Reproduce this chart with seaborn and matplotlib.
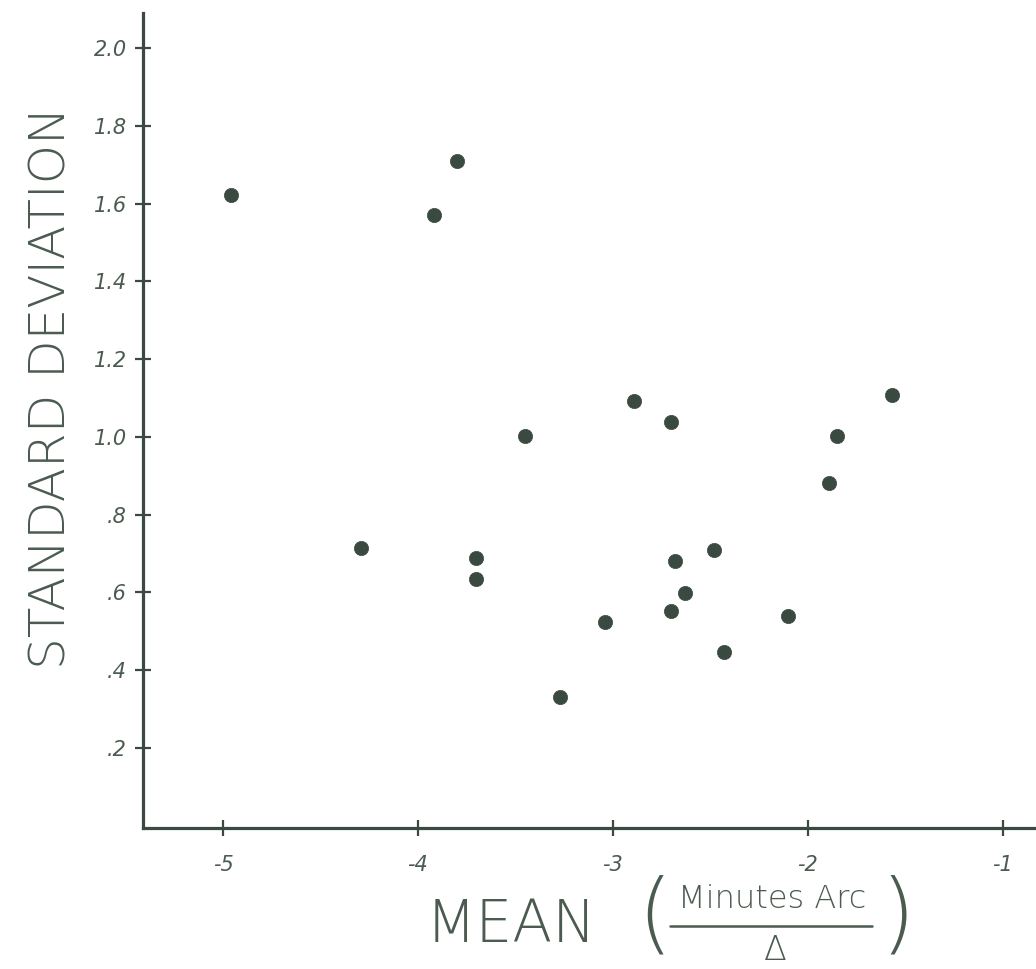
import matplotlib
matplotlib.use("Agg")
import matplotlib.pyplot as plt
from matplotlib.lines import Line2D
import seaborn as sns
import pandas as pd

# Data
mean_values = [-4.96, -3.80, -3.92, -4.29, -3.70, -3.70, -3.45, -3.27, -3.04, -2.89,
               -2.70, -2.68, -2.70, -2.63, -2.48, -2.43, -2.10, -1.89, -1.85, -1.57]
sd_values = [1.623, 1.710, 1.571, 0.715, 0.688, 0.635, 1.002, 0.330, 0.524, 1.091,
             1.039, 0.680, 0.552, 0.598, 0.710, 0.447, 0.538, 0.880, 1.003, 1.108]
x_ticks = [-5, -4, -3, -2, -1]
x_tick_labels = ["-5", "-4", "-3", "-2", "-1"]
y_ticks = [0.2, 0.4, 0.6, 0.8, 1.0, 1.2, 1.4, 1.6, 1.8, 2.0]
y_tick_labels = [".2", ".4", ".6", ".8", "1.0", "1.2", "1.4", "1.6", "1.8", "2.0"]

df = pd.DataFrame({"mean": mean_values, "sd": sd_values})

sns.set_style("ticks")
plt.rcParams["font.family"] = ["DejaVu Sans"]

INK = "#3b4a40"
TEXT = "#4b5b50"
W, H = 1036, 969

fig = plt.figure(figsize=(10.36, 9.69), dpi=100)
ax = fig.add_axes([143 / W, 1 - 828 / H, 1 - 143 / W, (828 - 13) / H])

sns.scatterplot(data=df, x="mean", y="sd", ax=ax, s=105, color=INK,
                edgecolor=INK, linewidth=0.5, legend=False, zorder=3)

ax.set_xlim(-5.41, -0.83)
ax.set_ylim(-0.006, 2.09)
ax.set_xticks(x_ticks)
ax.set_xticklabels(x_tick_labels, fontsize=15, style="italic", color=TEXT)
ax.set_yticks(y_ticks)
ax.set_yticklabels(y_tick_labels, fontsize=15, style="italic", color=TEXT)
ax.tick_params(axis="both", direction="inout", length=11, width=1.6, color=INK)
ax.tick_params(axis="x", pad=14)
ax.tick_params(axis="y", pad=6)

for side in ("top", "right"):
    ax.spines[side].set_visible(False)
for side in ("left", "bottom"):
    ax.spines[side].set_color(INK)
    ax.spines[side].set_linewidth(2.3)

ax.set_xlabel("")
ax.set_ylabel("")
ax.set_facecolor("white")
fig.patch.set_facecolor("white")

# y-axis title
fig.text(52 / W, 1 - 388 / H, "STANDARD DEVIATION", rotation=90,
         ha="center", va="center", fontsize=36, color=TEXT, fontweight="light")

# x-axis title: MEAN (Minutes Arc / Δ)
fig.text(511 / W, 1 - 942 / H, "MEAN", ha="center", va="baseline",
         fontsize=42, color=TEXT, fontweight="light")
fig.text(655 / W, 1 - 918 / H, "(", ha="center", va="center",
         fontsize=64, color=TEXT, fontweight="light")
fig.text(898 / W, 1 - 918 / H, ")", ha="center", va="center",
         fontsize=64, color=TEXT, fontweight="light")
fig.text(772 / W, 1 - 908 / H, "Minutes Arc", ha="center", va="baseline",
         fontsize=23, color=TEXT, fontweight="light")
fig.add_artist(Line2D([670 / W, 872 / W], [1 - 926 / H, 1 - 926 / H],
                      transform=fig.transFigure, color=TEXT, linewidth=1.8))
fig.text(775 / W, 1 - 960 / H, "Δ", ha="center", va="baseline",
         fontsize=24, color=TEXT, fontweight="light")

fig.savefig("out.png", dpi=100, facecolor="white")
